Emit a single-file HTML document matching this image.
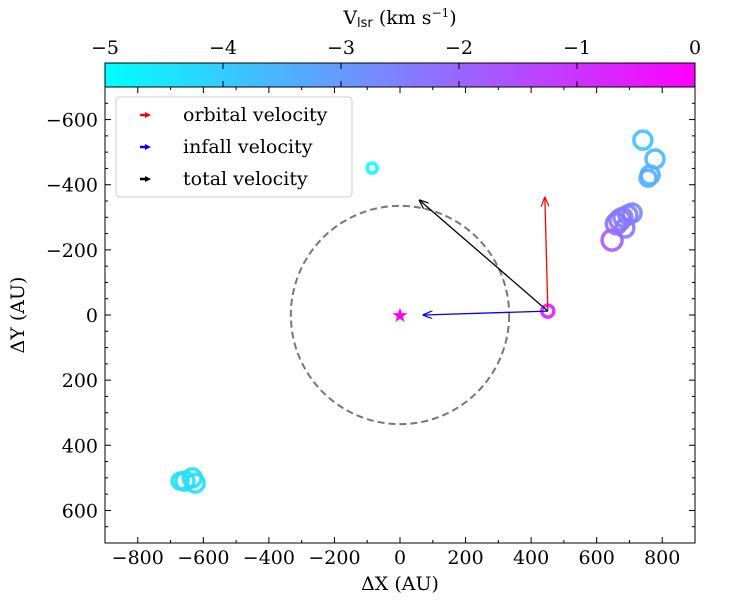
<!DOCTYPE html>
<html><head><meta charset="utf-8"><style>body{margin:0;background:#fff}svg text{font-family:"DejaVu Serif","Liberation Serif",serif;fill:#000}</style></head>
<body>
<svg id="c" width="731" height="608" xmlns="http://www.w3.org/2000/svg">
<defs>
<linearGradient id="cmap" x1="0" x2="1" y1="0" y2="0"><stop offset="0" stop-color="#00ffff"/><stop offset="1" stop-color="#ff00ff"/></linearGradient>
<marker id="ar" markerWidth="10" markerHeight="8" refX="9" refY="4" orient="auto" markerUnits="userSpaceOnUse"><path d="M0,0 L10,4 L0,8" fill="none" stroke="red" stroke-width="1.2"/></marker>
<marker id="ab" markerWidth="10" markerHeight="8" refX="9" refY="4" orient="auto" markerUnits="userSpaceOnUse"><path d="M0,0 L10,4 L0,8" fill="none" stroke="blue" stroke-width="1.2"/></marker>
<marker id="ak" markerWidth="10" markerHeight="8" refX="9" refY="4" orient="auto" markerUnits="userSpaceOnUse"><path d="M0,0 L10,4 L0,8" fill="none" stroke="black" stroke-width="1.2"/></marker>
<marker id="fr" markerWidth="6" markerHeight="6" refX="1" refY="3" orient="auto" markerUnits="userSpaceOnUse"><path d="M0,0 L6,3 L0,6Z" fill="red"/></marker>
<marker id="fb" markerWidth="6" markerHeight="6" refX="1" refY="3" orient="auto" markerUnits="userSpaceOnUse"><path d="M0,0 L6,3 L0,6Z" fill="blue"/></marker>
<marker id="fk" markerWidth="6" markerHeight="6" refX="1" refY="3" orient="auto" markerUnits="userSpaceOnUse"><path d="M0,0 L6,3 L0,6Z" fill="black"/></marker>
</defs>
<g id="g"></g>
</svg>
<script>
const xs=[741,778,763,757,647,671,695,708,686,660,680,-85,-656,-625,-634,-671,451];
const ys=[-537,-479,-430,-420,-230,-292,-307,-313,-267,-280,-300,-451,510,516,500,510,-12];
const vs=[-3.8,-3.6,-3.5,-3.4,-1.8,-2.3,-2.5,-2.6,-2.4,-2.2,-2.4,-5,-4.4,-4.4,-4.3,-4.4,-0.6];
const rs=[9,9,9,8,10,10,9,9,9,10,9,5,9,9,9,8,6];
const xTicks=[-800,-600,-400,-200,0,200,400,600,800];
const yTicks=[-600,-400,-200,0,200,400,600];
const cTicks=[-5,-4,-3,-2,-1,0];
const L=105,R=695,T=87,B=543;
const X=v=>L+(v+900)/1800*(R-L), Y=v=>T+(v+700)/1400*(B-T), C=v=>L+(v+5)/5*(R-L);
const col=v=>{const t=Math.max(0,Math.min(1,(v+5)/5));return `rgb(${Math.round(255*t)},${Math.round(255*(1-t))},255)`;};
const g=document.getElementById('g');
function el(tag,at,txt){const e=document.createElementNS('http://www.w3.org/2000/svg',tag);for(const k in at)e.setAttribute(k,at[k]);if(txt!==undefined)e.textContent=txt;g.appendChild(e);return e;}
let e;
e=el('rect',{x:L,y:63,width:R-L,height:24,fill:'url(#cmap)',stroke:'#000','stroke-width':1});

cTicks.forEach(v=>{el('line',{x1:C(v),x2:C(v),y1:63,y2:69,stroke:'#000'});el('line',{x1:C(v),x2:C(v),y1:87,y2:81,stroke:'#000'});
e=el('text',{x:C(v),y:54,'text-anchor':'middle','font-size':19},v<0?'−'+(-v):''+v);});
e=el('text',{x:400,y:24,'text-anchor':'middle','font-size':19});e.innerHTML='V<tspan font-size="13" dy="3" font-family="DejaVu Sans">lsr</tspan><tspan dy="-3"> (km s</tspan><tspan font-size="12" dy="-7">−1</tspan><tspan dy="7">)</tspan>';

e=el('rect',{x:L,y:T,width:R-L,height:B-T,fill:'none',stroke:'#000','stroke-width':1});

for(let v=-900;v<=900;v+=100){const big=v%200===0;const h=big?6:3;
el('line',{x1:X(v),x2:X(v),y1:B,y2:B-h,stroke:'#000'});el('line',{x1:X(v),x2:X(v),y1:T,y2:T+h,stroke:'#000'});}
for(let v=-700;v<=700;v+=50){const big=v%200===0;const h=big?6:3;
el('line',{x1:L,x2:L+h,y1:Y(v),y2:Y(v),stroke:'#000'});el('line',{x1:R,x2:R-h,y1:Y(v),y2:Y(v),stroke:'#000'});}
xTicks.forEach(v=>{e=el('text',{x:X(v),y:564,'text-anchor':'middle','font-size':19},v<0?'−'+(-v):''+v);});
yTicks.forEach(v=>{e=el('text',{x:98,y:Y(v)+7,'text-anchor':'end','font-size':19},v<0?'−'+(-v):''+v);});
e=el('text',{x:400,y:590,'text-anchor':'middle','font-size':19},'ΔX (AU)');
e=el('text',{x:24,y:315,'text-anchor':'middle','font-size':19,transform:'rotate(-90 24 315)'},'ΔY (AU)');
e=el('circle',{cx:X(0),cy:Y(0),r:(X(333)-X(0)),fill:'none',stroke:'#777','stroke-width':2,'stroke-dasharray':'7,4'});

xs.forEach((x,i)=>{e=el('circle',{cx:X(x),cy:Y(ys[i]),r:rs[i],fill:'none',stroke:col(vs[i]),'stroke-width':3.5,opacity:0.9});
});
const sx=X(451),sy=Y(-12);
e=el('line',{x1:sx,y1:sy,x2:X(442),y2:Y(-360),stroke:'red','stroke-width':1.3,'marker-end':'url(#ar)'});
e=el('line',{x1:sx,y1:sy,x2:X(72),y2:Y(0),stroke:'blue','stroke-width':1.3,'marker-end':'url(#ab)'});
e=el('line',{x1:sx,y1:sy,x2:X(60),y2:Y(-352),stroke:'black','stroke-width':1.3,'marker-end':'url(#ak)'});
e=el('text',{x:X(0),y:Y(0)+7,'text-anchor':'middle','font-size':20,style:'fill:#ff00ff'},'★');
e=el('rect',{x:116,y:97,width:236,height:100,rx:4,fill:'#fff',stroke:'#ccc','stroke-width':1});
[['red','orbital velocity','fr'],['blue','infall velocity','fb'],['black','total velocity','fk']].forEach((d,i)=>{const yy=115+i*32;
el('line',{x1:140,x2:146,y1:yy,y2:yy,stroke:d[0],'stroke-width':2.5,'marker-end':'url(#'+d[2]+')'});
e=el('text',{x:183,y:yy+6,'font-size':19},d[1]);});
</script>
</body></html>
